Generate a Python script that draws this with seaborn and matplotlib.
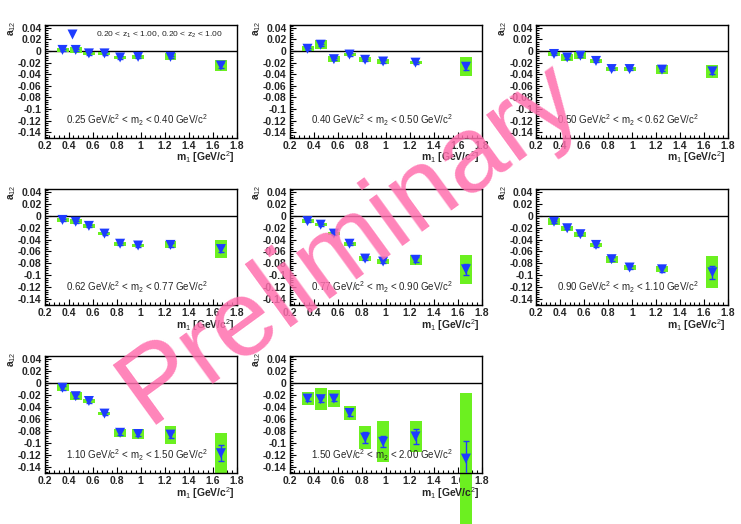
import numpy as np
import matplotlib
matplotlib.use("Agg")
import matplotlib.pyplot as plt
from matplotlib.lines import Line2D
from matplotlib.ticker import FixedLocator, MultipleLocator
import seaborn as sns

# m1 bin centres (GeV/c^2), shared by all panels
m1 = [0.35, 0.46, 0.57, 0.70, 0.83, 0.98, 1.25, 1.67]

# m2 bin labels
m2_bins = ["0.25", "0.40", "0.50", "0.62", "0.77", "0.90", "1.10", "1.50", "2.00"]

# a12 values per m2 bin
a12_p1 = [0.002, 0.002, -0.004, -0.004, -0.011, -0.010, -0.010, -0.025]
a12_p2 = [0.004, 0.011, -0.014, -0.006, -0.015, -0.018, -0.020, -0.027]
a12_p3 = [-0.005, -0.011, -0.008, -0.017, -0.031, -0.031, -0.032, -0.035]
a12_p4 = [-0.007, -0.010, -0.017, -0.030, -0.047, -0.050, -0.049, -0.056]
a12_p5 = [-0.009, -0.015, -0.030, -0.047, -0.072, -0.077, -0.074, -0.090]
a12_p6 = [-0.010, -0.021, -0.031, -0.049, -0.073, -0.087, -0.090, -0.095]
a12_p7 = [-0.008, -0.022, -0.030, -0.051, -0.083, -0.085, -0.086, -0.117]
a12_p8 = [-0.026, -0.027, -0.026, -0.050, -0.091, -0.098, -0.089, -0.126]

# statistical errors
stat_p1 = [0.002, 0.002, 0.002, 0.002, 0.002, 0.002, 0.002, 0.004]
stat_p2 = [0.002, 0.002, 0.002, 0.002, 0.002, 0.002, 0.002, 0.005]
stat_p3 = [0.002, 0.002, 0.002, 0.002, 0.002, 0.002, 0.003, 0.005]
stat_p4 = [0.002, 0.002, 0.002, 0.002, 0.002, 0.002, 0.003, 0.005]
stat_p5 = [0.002, 0.002, 0.002, 0.002, 0.003, 0.003, 0.004, 0.009]
stat_p6 = [0.002, 0.002, 0.002, 0.003, 0.003, 0.003, 0.004, 0.011]
stat_p7 = [0.003, 0.003, 0.003, 0.003, 0.004, 0.004, 0.005, 0.013]
stat_p8 = [0.004, 0.004, 0.004, 0.005, 0.009, 0.009, 0.013, 0.029]

# systematic errors (green boxes)
sys_p1 = [0.004, 0.005, 0.003, 0.003, 0.003, 0.003, 0.006, 0.010]
sys_p2 = [0.004, 0.008, 0.005, 0.003, 0.004, 0.004, 0.003, 0.016]
sys_p3 = [0.003, 0.006, 0.006, 0.003, 0.003, 0.004, 0.008, 0.011]
sys_p4 = [0.003, 0.004, 0.003, 0.003, 0.003, 0.003, 0.006, 0.015]
sys_p5 = [0.003, 0.003, 0.003, 0.003, 0.004, 0.004, 0.008, 0.024]
sys_p6 = [0.006, 0.004, 0.004, 0.003, 0.006, 0.004, 0.005, 0.027]
sys_p7 = [0.006, 0.007, 0.004, 0.003, 0.007, 0.008, 0.015, 0.034]
sys_p8 = [0.011, 0.018, 0.014, 0.011, 0.019, 0.034, 0.026, 0.109]

a12_all = [a12_p1, a12_p2, a12_p3, a12_p4, a12_p5, a12_p6, a12_p7, a12_p8]
stat_all = [stat_p1, stat_p2, stat_p3, stat_p4, stat_p5, stat_p6, stat_p7, stat_p8]
sys_all = [sys_p1, sys_p2, sys_p3, sys_p4, sys_p5, sys_p6, sys_p7, sys_p8]

xticks = [0.2, 0.4, 0.6, 0.8, 1.0, 1.2, 1.4, 1.6, 1.8]
yticks = [-0.14, -0.12, -0.10, -0.08, -0.06, -0.04, -0.02, 0.0, 0.02, 0.04]

blue = "#1e3cff"
green = "#6cf020"

sns.set_theme(style="ticks")
plt.rcParams["font.family"] = ["Liberation Sans", "DejaVu Sans"]
plt.rcParams["mathtext.fontset"] = "custom"
plt.rcParams["mathtext.rm"] = "Liberation Sans"
plt.rcParams["mathtext.it"] = "Liberation Sans"
plt.rcParams["mathtext.bf"] = "Liberation Sans:bold"

fig = plt.figure(figsize=(7.41, 5.24), dpi=100)

# axes boxes in pixels (left, top, right, bottom)
col_px = [(44.5, 236.5), (289.5, 481.5), (536, 728)]
row_px = [(25, 138), (189, 305), (356, 473)]
W, H = 741, 524

for i in range(8):
    r, c = divmod(i, 3)
    x0, x1 = col_px[c]
    y0, y1 = row_px[r]
    ax = fig.add_axes([x0 / W, 1 - y1 / H, (x1 - x0) / W, (y1 - y0) / H])

    vals = np.array(a12_all[i])
    sy = np.array(sys_all[i])

    ax.bar(m1, 2 * sy, bottom=vals - sy, width=0.1, color=green,
           linewidth=0, zorder=2, clip_on=False)
    ax.errorbar(m1, vals, yerr=stat_all[i], fmt="none", ecolor=blue,
                elinewidth=1, capsize=2, capthick=1, zorder=3)
    sns.scatterplot(x=m1, y=vals, marker="v", s=52, color=blue,
                    edgecolor="none", ax=ax, zorder=4, legend=False)
    ax.axhline(0, color="black", lw=1, zorder=1)

    ax.set_xlim(0.2, 1.8)
    ax.set_ylim(-0.15, 0.045)
    ax.xaxis.set_major_locator(FixedLocator(xticks))
    ax.set_xticklabels([f"{v:g}" for v in xticks])
    ax.yaxis.set_major_locator(FixedLocator(yticks))
    ax.set_yticklabels([f"{round(v, 2):g}" for v in yticks])
    ax.xaxis.set_minor_locator(MultipleLocator(0.04))
    ax.yaxis.set_minor_locator(MultipleLocator(0.004))
    ax.tick_params(which="both", direction="in", top=False, right=False,
                   labelsize=7.5, pad=2, width=0.8, color="black")
    ax.tick_params(which="major", length=4)
    ax.tick_params(which="minor", length=2)
    for lab in ax.get_xticklabels() + ax.get_yticklabels():
        lab.set_fontweight("bold")
    for sp in ax.spines.values():
        sp.set_linewidth(1)
        sp.set_color("black")
    ax.set_xlabel("")
    ax.set_ylabel("")

    ax.text(-0.17, 1.04, r"a$_{12}$", rotation=90, transform=ax.transAxes,
            ha="center", va="top", fontsize=7.5, fontweight="bold")
    ax.text(0.99, -0.17, r"m$_1$ [GeV/c$^2$]", transform=ax.transAxes,
            ha="right", va="center", fontsize=7.5, fontweight="bold")
    ax.text(0.48, 0.155,
            f"{m2_bins[i]} GeV/c$^2$ < m$_2$ < {m2_bins[i + 1]} GeV/c$^2$",
            transform=ax.transAxes, ha="center", va="center", fontsize=7)

    if i == 0:
        h = Line2D([], [], marker="v", ls="none", color=blue, ms=7.5, mec="none")
        ax.legend([h], [r"0.20 < z$_1$ < 1.00, 0.20 < z$_2$ < 1.00"],
                  loc="center left", bbox_to_anchor=(0.12, 0.91),
                  frameon=False, fontsize=6.1, handlelength=1,
                  handletextpad=2.4, borderpad=0, borderaxespad=0)

fig.text(0.472, 0.536, "Preliminary", rotation=36, fontsize=78,
         color="#ff6fae", alpha=0.85, ha="center", va="center",
         rotation_mode="anchor", zorder=10)

fig.savefig("out.png", dpi=100)
